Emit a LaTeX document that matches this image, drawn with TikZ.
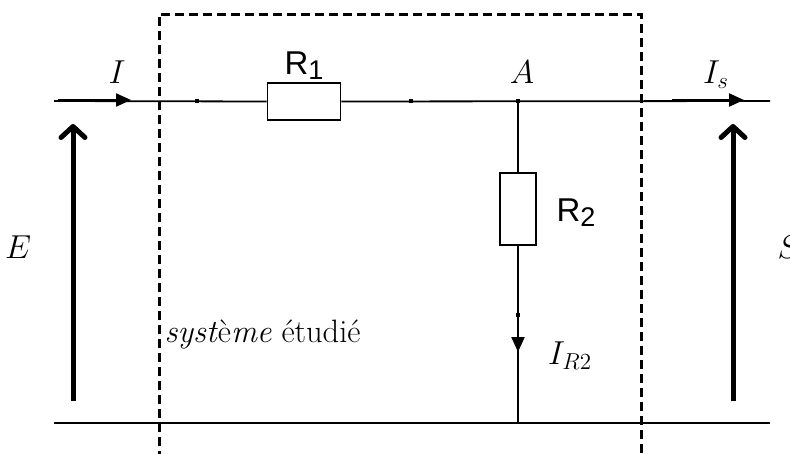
\documentclass[tikz,border=0pt]{standalone}
\usepackage{fontspec}
\newfontfamily\rfont{Liberation Sans}
\usetikzlibrary{arrows.meta}
\begin{document}
\begin{tikzpicture}[x=1pt,y=-1pt,
  wire/.style={line width=1.8pt},
  res/.style={draw,line width=1.8pt,fill=white,inner sep=0pt},
  dotsq/.style={fill=black,minimum size=4pt,inner sep=0pt},
  curarrow/.style={line width=2.2pt,-{Triangle[length=15pt,width=13pt]}},
  bigarrow/.style={line width=5pt,-{Straight Barb[length=11pt,width=24pt,line width=5pt,round]}},
  dashbox/.style={line width=3pt,dash pattern=on 9pt off 5pt},
  mlabel/.style={font=\fontsize{20}{24}\selectfont,scale=1.6,transform shape},
  tlabel/.style={font=\fontsize{20}{24}\selectfont,scale=1.62,transform shape},
  rlabel/.style={font=\rfont\fontsize{33}{36}\selectfont}]
\useasboundingbox (0,0) rectangle (790,453);
% wires
\coordinate (tl) at (54,101);
\coordinate (tr) at (770,101);
\coordinate (bl) at (54,423);
\coordinate (br) at (770,423);
\coordinate (bA) at (518,423);
\node[res,minimum width=73pt,minimum height=37pt] (R1) at (304,101.5) {};
\node[res,minimum width=36pt,minimum height=72pt] (R2) at (518,209) {};
\draw[wire] (tl) -- (R1.west);
\draw[wire] (R1.east) -- (tr);
\draw[wire] (bl) -- (br);
\coordinate (A) at (518,101);
\draw[wire] (A) -- (R2.north);
\draw[wire] (R2.south) -- (bA);
% dots
\node[dotsq] (d1) at (197,101) {};
\node[dotsq] (d2) at (411,101) {};
\node[dotsq] (dA) at (518,101) {};
\node[dotsq] (d3) at (518,315) {};
% current arrows
\coordinate (Ia) at (58,100);
\coordinate (Ib) at (131,100);
\draw[curarrow] (Ia) -- (Ib);
\coordinate (Isa) at (672,100);
\coordinate (Isb) at (744,100);
\draw[curarrow] (Isa) -- (Isb);
\coordinate (IRa) at (518,292);
\coordinate (IRb) at (518,352);
\draw[curarrow] (IRa) -- (IRb);
% voltage arrows
\coordinate (Ea) at (73,401);
\coordinate (Eb) at (73,124);
\draw[bigarrow] (Ea) -- (Eb);
\coordinate (Sa) at (733,401);
\coordinate (Sb) at (733,124);
\draw[bigarrow] (Sa) -- (Sb);
% dashed box
\draw[dashbox] (159,460) -- (159,14) -- (641,14) -- (641,460);
% labels
\node[mlabel] (lI) at (117,72) {$I$};
\node[mlabel] (lA) at (522,72) {$A$};
\node[mlabel] (lIs) at (716,75) {$I_s$};
\node[mlabel] (lE) at (18,247) {$E$};
\node[mlabel,anchor=west] (lS) at (772,247) {$S$};
\node[mlabel] (lIR) at (570,356) {$I_{R2}$};
\node[tlabel,anchor=west] (lsys) at (159,335) {\textit{syst}è\textit{me} étudié};
\node[rlabel] (lR1) at (304,66) {R\raisebox{-5pt}{\fontsize{27}{30}\selectfont 1}};
\node[rlabel] (lR2) at (576,213) {R\raisebox{-5pt}{\fontsize{27}{30}\selectfont 2}};
\end{tikzpicture}
\end{document}
